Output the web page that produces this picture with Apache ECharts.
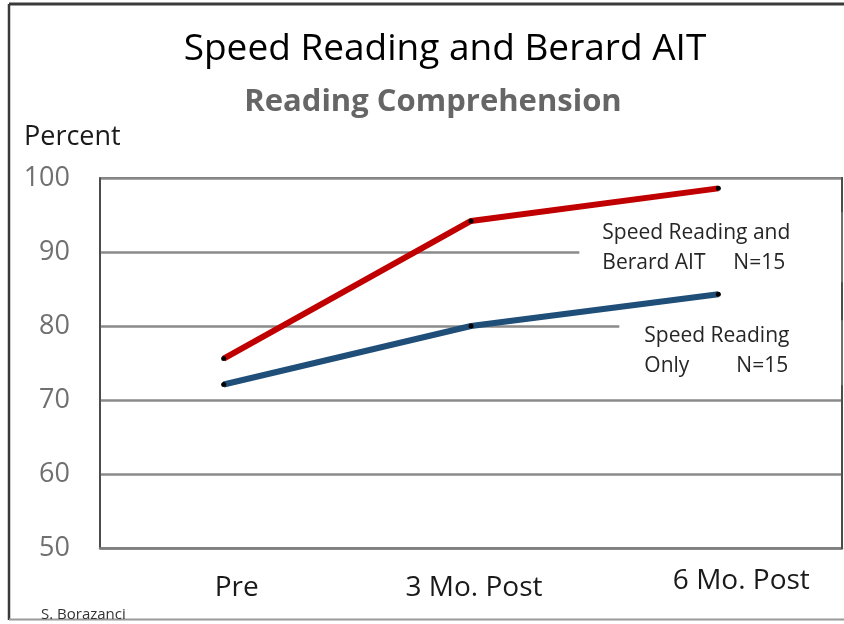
<!DOCTYPE html>
<html>
<head>
<meta charset="utf-8">
<script src="https://cdn.jsdelivr.net/npm/echarts@6/dist/echarts.min.js"></script>
<style>
  html, body { margin: 0; padding: 0; background: #fff; }
  #chart { width: 844px; height: 624px; }
</style>
</head>
<body>
<div id="chart"></div>
<script>
// ---- data ----
const categories = ['Pre', '3 Mo. Post', '6 Mo. Post'];
const comboValues = [75.6, 94.2, 98.6];      // Speed Reading and Berard AIT
const speedOnlyValues = [72.1, 80.0, 84.3];  // Speed Reading Only
const comboName = 'Speed Reading and Berard AIT';
const speedOnlyName = 'Speed Reading Only';
const yMin = 50, yMax = 100, yStep = 10;

const FONT = '"Open Sans", "Noto Sans", sans-serif';
const lastIdx = categories.length - 1;

function withEndLabel(values, labelOpt) {
  return values.map((v, i) => i === lastIdx ? { value: v, label: labelOpt } : v);
}

const noteText = { fontFamily: FONT, fontSize: 21, lineHeight: 30, color: '#262626' };

const comboLabel = {
  show: true,
  position: 'inside',
  align: 'left',
  verticalAlign: 'top',
  offset: [-139, 24],
  backgroundColor: '#ffffff',
  padding: [6, 0, 4, 23],
  width: 245,
  overflow: 'none',
  formatter: '{t|Speed Reading and}\n{a|Berard AIT}{n|N=15}',
  rich: {
    t: noteText,
    a: Object.assign({}, noteText, { width: 131 }),
    n: noteText
  }
};
const speedLabel = {
  show: true,
  position: 'inside',
  align: 'left',
  verticalAlign: 'top',
  offset: [-99, 26],
  backgroundColor: '#ffffff',
  padding: [1, 0, 4, 25],
  width: 203,
  overflow: 'none',
  formatter: '{t|Speed Reading}\n{a|Only}{n|N=15}',
  rich: {
    t: noteText,
    a: Object.assign({}, noteText, { width: 92 }),
    n: noteText
  }
};

const chart = echarts.init(document.getElementById('chart'), null, { renderer: 'canvas' });
chart.setOption({
  backgroundColor: '#ffffff',
  animation: false,
  title: [
    { text: 'Speed Reading and Berard AIT', left: 440, top: 26, textAlign: 'center',
      textStyle: { fontFamily: FONT, fontSize: 37, fontWeight: 'normal', color: '#000000' } },
    { text: 'Reading Comprehension', left: 428, top: 82, textAlign: 'center',
      textStyle: { fontFamily: FONT, fontSize: 31, fontWeight: 'bold', color: '#666666' } },
    { text: 'Percent', left: 19, top: 119,
      textStyle: { fontFamily: FONT, fontSize: 27, fontWeight: 'normal', color: '#1a1a1a' } },
    { text: 'S. Borazanci', left: 36, top: 602,
      textStyle: { fontFamily: FONT, fontSize: 15, fontWeight: 'normal', color: '#333333' } }
  ],
  graphic: [
    { type: 'line', shape: { x1: 9, y1: 4, x2: 844, y2: 4 }, style: { stroke: '#3a3a3a', lineWidth: 3 } },
    { type: 'line', shape: { x1: 9, y1: 4, x2: 9, y2: 620 }, style: { stroke: '#3a3a3a', lineWidth: 2.5 } },
    { type: 'line', shape: { x1: 9, y1: 619.5, x2: 844, y2: 619.5 }, style: { stroke: '#9a9a9a', lineWidth: 2 } },
    { type: 'line', z: 100, shape: { x1: 842, y1: 177, x2: 842, y2: 549 }, style: { stroke: '#404040', lineWidth: 1.5 } }
  ],
  grid: {
    left: 100, right: 2, top: 178, bottom: 76,
    show: true, borderColor: '#404040', borderWidth: 1.5, backgroundColor: 'transparent'
  },
  xAxis: {
    type: 'category',
    data: categories,
    boundaryGap: true,
    axisLine: { show: true, lineStyle: { color: '#808080', width: 2.5 } },
    axisTick: { show: false },
    splitLine: { show: false },
    axisLabel: {
      margin: 19,
      interval: 0,
      formatter: function (v, i) { return ['{p|', '{q|', '{r|'][i] + v + '}'; },
      rich: {
        p: { fontFamily: FONT, fontSize: 28, color: '#1a1a1a', padding: [7, 0, 0, 26] },
        q: { fontFamily: FONT, fontSize: 28, color: '#1a1a1a', padding: [7, 0, 0, 6] },
        r: { fontFamily: FONT, fontSize: 28, color: '#1a1a1a', padding: [0, 0, 0, 46] }
      }
    }
  },
  yAxis: {
    type: 'value',
    min: yMin, max: yMax, interval: yStep,
    axisLine: { show: true, lineStyle: { color: '#404040', width: 1.5 } },
    axisTick: { show: false },
    splitLine: { show: true, lineStyle: { color: '#8a8a8a', width: 2.5 } },
    axisLabel: { margin: 30, fontFamily: FONT, fontSize: 27, color: '#707070' }
  },
  series: [
    {
      name: comboName, type: 'line',
      data: withEndLabel(comboValues, comboLabel),
      lineStyle: { color: '#c00000', width: 6 },
      itemStyle: { color: '#000000' },
      symbol: 'circle', symbolSize: 5, showSymbol: true, z: 3
    },
    {
      name: speedOnlyName, type: 'line',
      data: withEndLabel(speedOnlyValues, speedLabel),
      lineStyle: { color: '#1f4e79', width: 6 },
      itemStyle: { color: '#000000' },
      symbol: 'circle', symbolSize: 5, showSymbol: true, z: 3
    }
  ]
});
</script>
</body>
</html>
